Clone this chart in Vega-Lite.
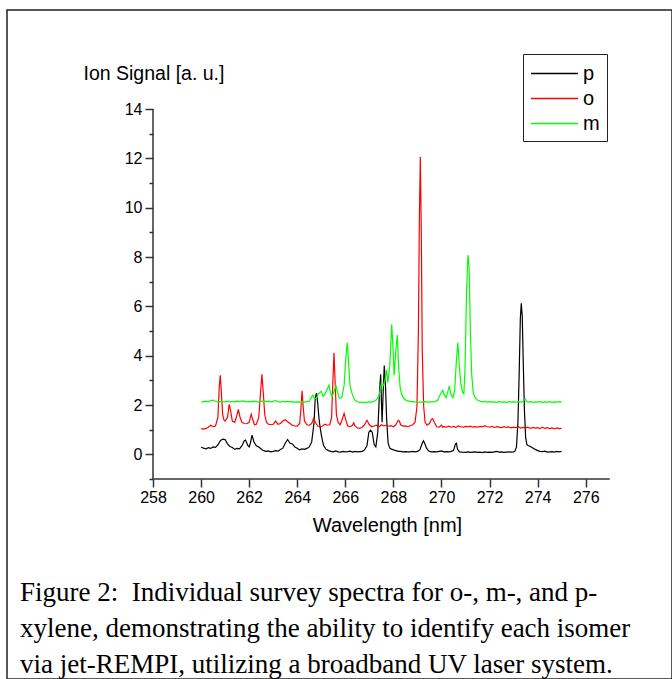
{
 "$schema": "https://vega.github.io/schema/vega-lite/v6.json",
 "width": 665, "height": 669,
 "autosize": {"type": "none"},
 "padding": {"left": 7, "top": 10, "right": 0, "bottom": 0},
 "background": "white",
 "config": {"view": {"stroke": "#222", "strokeWidth": 1.5}, "font": "Liberation Sans"},
 "title": {"text": ["Figure 2:\u00a0 Individual survey spectra for o-, m-, and p-", "xylene, demonstrating the ability to identify each isomer", "via jet-REMPI, utilizing a broadband UV laser system."], "orient": "bottom", "anchor": "start", "frame": "group", "offset": -78, "baseline": "alphabetic", "font": "Liberation Serif", "fontSize": 27, "fontWeight": "normal", "color": "#000", "lineHeight": 36, "dx": 13},
 "layer": [
  {
   "data": {"values": [
{"s":"p","w":260.0,"v":0.30},{"s":"p","w":260.1,"v":0.25},{"s":"p","w":260.2,"v":0.22},{"s":"p","w":260.3,"v":0.27},{"s":"p","w":260.4,"v":0.24},{"s":"p","w":260.5,"v":0.30},{"s":"p","w":260.6,"v":0.28},{"s":"p","w":260.7,"v":0.38},{"s":"p","w":260.8,"v":0.55},{"s":"p","w":260.9,"v":0.62},{"s":"p","w":261.0,"v":0.60},{"s":"p","w":261.1,"v":0.42},{"s":"p","w":261.2,"v":0.32},{"s":"p","w":261.3,"v":0.28},{"s":"p","w":261.4,"v":0.20},{"s":"p","w":261.5,"v":0.24},{"s":"p","w":261.6,"v":0.22},{"s":"p","w":261.7,"v":0.35},{"s":"p","w":261.8,"v":0.55},{"s":"p","w":261.85,"v":0.58},{"s":"p","w":261.95,"v":0.35},{"s":"p","w":262.0,"v":0.30},{"s":"p","w":262.05,"v":0.45},{"s":"p","w":262.12,"v":0.78},{"s":"p","w":262.2,"v":0.50},{"s":"p","w":262.3,"v":0.35},{"s":"p","w":262.4,"v":0.30},{"s":"p","w":262.5,"v":0.22},{"s":"p","w":262.6,"v":0.15},{"s":"p","w":262.7,"v":0.12},{"s":"p","w":262.8,"v":0.14},{"s":"p","w":262.9,"v":0.10},{"s":"p","w":263.0,"v":0.12},{"s":"p","w":263.1,"v":0.15},{"s":"p","w":263.2,"v":0.13},{"s":"p","w":263.3,"v":0.20},{"s":"p","w":263.4,"v":0.25},{"s":"p","w":263.5,"v":0.45},{"s":"p","w":263.6,"v":0.60},{"s":"p","w":263.7,"v":0.45},{"s":"p","w":263.8,"v":0.42},{"s":"p","w":263.9,"v":0.30},{"s":"p","w":264.0,"v":0.25},{"s":"p","w":264.1,"v":0.18},{"s":"p","w":264.2,"v":0.22},{"s":"p","w":264.3,"v":0.20},{"s":"p","w":264.4,"v":0.24},{"s":"p","w":264.5,"v":0.30},{"s":"p","w":264.6,"v":0.50},{"s":"p","w":264.7,"v":1.30},{"s":"p","w":264.75,"v":2.30},{"s":"p","w":264.8,"v":2.48},{"s":"p","w":264.85,"v":2.10},{"s":"p","w":264.9,"v":1.50},{"s":"p","w":264.95,"v":1.10},{"s":"p","w":265.0,"v":0.80},{"s":"p","w":265.05,"v":0.55},{"s":"p","w":265.1,"v":0.35},{"s":"p","w":265.2,"v":0.20},{"s":"p","w":265.3,"v":0.15},{"s":"p","w":265.4,"v":0.12},{"s":"p","w":265.5,"v":0.10},{"s":"p","w":265.6,"v":0.14},{"s":"p","w":265.7,"v":0.10},{"s":"p","w":265.8,"v":0.09},{"s":"p","w":265.9,"v":0.12},{"s":"p","w":266.0,"v":0.10},{"s":"p","w":266.1,"v":0.11},{"s":"p","w":266.2,"v":0.13},{"s":"p","w":266.3,"v":0.09},{"s":"p","w":266.4,"v":0.12},{"s":"p","w":266.5,"v":0.10},{"s":"p","w":266.6,"v":0.11},{"s":"p","w":266.7,"v":0.12},{"s":"p","w":266.8,"v":0.18},{"s":"p","w":266.9,"v":0.35},{"s":"p","w":266.98,"v":0.90},{"s":"p","w":267.05,"v":0.98},{"s":"p","w":267.12,"v":0.90},{"s":"p","w":267.2,"v":0.40},{"s":"p","w":267.27,"v":0.30},{"s":"p","w":267.35,"v":0.90},{"s":"p","w":267.42,"v":2.50},{"s":"p","w":267.47,"v":3.25},{"s":"p","w":267.5,"v":2.20},{"s":"p","w":267.53,"v":1.30},{"s":"p","w":267.57,"v":2.40},{"s":"p","w":267.62,"v":3.60},{"s":"p","w":267.67,"v":2.80},{"s":"p","w":267.72,"v":1.40},{"s":"p","w":267.78,"v":0.45},{"s":"p","w":267.85,"v":0.25},{"s":"p","w":267.9,"v":0.22},{"s":"p","w":268.0,"v":0.18},{"s":"p","w":268.1,"v":0.15},{"s":"p","w":268.2,"v":0.12},{"s":"p","w":268.3,"v":0.12},{"s":"p","w":268.4,"v":0.10},{"s":"p","w":268.5,"v":0.11},{"s":"p","w":268.6,"v":0.10},{"s":"p","w":268.7,"v":0.10},{"s":"p","w":268.8,"v":0.12},{"s":"p","w":268.9,"v":0.10},{"s":"p","w":269.0,"v":0.12},{"s":"p","w":269.1,"v":0.18},{"s":"p","w":269.2,"v":0.45},{"s":"p","w":269.25,"v":0.55},{"s":"p","w":269.3,"v":0.45},{"s":"p","w":269.38,"v":0.25},{"s":"p","w":269.45,"v":0.15},{"s":"p","w":269.5,"v":0.12},{"s":"p","w":269.6,"v":0.10},{"s":"p","w":269.7,"v":0.11},{"s":"p","w":269.8,"v":0.10},{"s":"p","w":269.9,"v":0.12},{"s":"p","w":270.0,"v":0.14},{"s":"p","w":270.1,"v":0.10},{"s":"p","w":270.2,"v":0.11},{"s":"p","w":270.3,"v":0.10},{"s":"p","w":270.4,"v":0.12},{"s":"p","w":270.5,"v":0.15},{"s":"p","w":270.58,"v":0.42},{"s":"p","w":270.62,"v":0.45},{"s":"p","w":270.67,"v":0.20},{"s":"p","w":270.75,"v":0.10},{"s":"p","w":270.85,"v":0.09},{"s":"p","w":271.0,"v":0.08},{"s":"p","w":271.1,"v":0.10},{"s":"p","w":271.2,"v":0.08},{"s":"p","w":271.3,"v":0.09},{"s":"p","w":271.4,"v":0.10},{"s":"p","w":271.5,"v":0.08},{"s":"p","w":271.6,"v":0.09},{"s":"p","w":271.7,"v":0.07},{"s":"p","w":271.8,"v":0.10},{"s":"p","w":271.9,"v":0.08},{"s":"p","w":272.0,"v":0.09},{"s":"p","w":272.1,"v":0.08},{"s":"p","w":272.2,"v":0.10},{"s":"p","w":272.3,"v":0.12},{"s":"p","w":272.4,"v":0.09},{"s":"p","w":272.5,"v":0.10},{"s":"p","w":272.6,"v":0.08},{"s":"p","w":272.7,"v":0.09},{"s":"p","w":272.8,"v":0.10},{"s":"p","w":272.9,"v":0.09},{"s":"p","w":273.0,"v":0.10},{"s":"p","w":273.05,"v":0.12},{"s":"p","w":273.12,"v":0.30},{"s":"p","w":273.18,"v":1.30},{"s":"p","w":273.23,"v":3.20},{"s":"p","w":273.28,"v":5.50},{"s":"p","w":273.32,"v":6.12},{"s":"p","w":273.36,"v":5.60},{"s":"p","w":273.4,"v":3.80},{"s":"p","w":273.45,"v":1.80},{"s":"p","w":273.5,"v":0.70},{"s":"p","w":273.55,"v":0.40},{"s":"p","w":273.6,"v":0.36},{"s":"p","w":273.7,"v":0.32},{"s":"p","w":273.8,"v":0.26},{"s":"p","w":273.9,"v":0.20},{"s":"p","w":274.0,"v":0.15},{"s":"p","w":274.1,"v":0.12},{"s":"p","w":274.2,"v":0.11},{"s":"p","w":274.3,"v":0.13},{"s":"p","w":274.4,"v":0.09},{"s":"p","w":274.5,"v":0.10},{"s":"p","w":274.6,"v":0.11},{"s":"p","w":274.7,"v":0.09},{"s":"p","w":274.8,"v":0.12},{"s":"p","w":274.9,"v":0.10},{"s":"p","w":275.0,"v":0.12},
{"s":"o","w":260.0,"v":1.04},{"s":"o","w":260.1,"v":1.02},{"s":"o","w":260.2,"v":1.05},{"s":"o","w":260.3,"v":1.10},{"s":"o","w":260.4,"v":1.18},{"s":"o","w":260.5,"v":1.12},{"s":"o","w":260.6,"v":1.15},{"s":"o","w":260.7,"v":1.50},{"s":"o","w":260.76,"v":2.80},{"s":"o","w":260.8,"v":3.20},{"s":"o","w":260.85,"v":2.40},{"s":"o","w":260.9,"v":1.60},{"s":"o","w":260.95,"v":1.40},{"s":"o","w":261.0,"v":1.35},{"s":"o","w":261.1,"v":1.50},{"s":"o","w":261.17,"v":2.03},{"s":"o","w":261.22,"v":1.80},{"s":"o","w":261.3,"v":1.35},{"s":"o","w":261.4,"v":1.30},{"s":"o","w":261.48,"v":1.55},{"s":"o","w":261.55,"v":1.82},{"s":"o","w":261.62,"v":1.50},{"s":"o","w":261.7,"v":1.30},{"s":"o","w":261.8,"v":1.25},{"s":"o","w":261.9,"v":1.24},{"s":"o","w":262.0,"v":1.30},{"s":"o","w":262.05,"v":1.50},{"s":"o","w":262.09,"v":1.63},{"s":"o","w":262.15,"v":1.40},{"s":"o","w":262.22,"v":1.20},{"s":"o","w":262.3,"v":1.22},{"s":"o","w":262.4,"v":1.50},{"s":"o","w":262.48,"v":2.60},{"s":"o","w":262.53,"v":3.25},{"s":"o","w":262.58,"v":2.60},{"s":"o","w":262.65,"v":1.60},{"s":"o","w":262.72,"v":1.30},{"s":"o","w":262.8,"v":1.22},{"s":"o","w":262.9,"v":1.20},{"s":"o","w":263.0,"v":1.22},{"s":"o","w":263.1,"v":1.35},{"s":"o","w":263.2,"v":1.22},{"s":"o","w":263.3,"v":1.25},{"s":"o","w":263.4,"v":1.35},{"s":"o","w":263.5,"v":1.40},{"s":"o","w":263.6,"v":1.32},{"s":"o","w":263.7,"v":1.25},{"s":"o","w":263.8,"v":1.18},{"s":"o","w":263.9,"v":1.15},{"s":"o","w":264.0,"v":1.14},{"s":"o","w":264.1,"v":1.25},{"s":"o","w":264.15,"v":1.80},{"s":"o","w":264.2,"v":2.58},{"s":"o","w":264.25,"v":1.90},{"s":"o","w":264.3,"v":1.35},{"s":"o","w":264.4,"v":1.20},{"s":"o","w":264.5,"v":1.18},{"s":"o","w":264.6,"v":1.25},{"s":"o","w":264.68,"v":1.46},{"s":"o","w":264.75,"v":1.30},{"s":"o","w":264.85,"v":1.15},{"s":"o","w":264.95,"v":1.12},{"s":"o","w":265.05,"v":1.15},{"s":"o","w":265.15,"v":1.22},{"s":"o","w":265.25,"v":1.18},{"s":"o","w":265.35,"v":1.20},{"s":"o","w":265.43,"v":1.50},{"s":"o","w":265.48,"v":2.90},{"s":"o","w":265.53,"v":4.12},{"s":"o","w":265.58,"v":2.80},{"s":"o","w":265.63,"v":1.60},{"s":"o","w":265.7,"v":1.30},{"s":"o","w":265.78,"v":1.20},{"s":"o","w":265.85,"v":1.35},{"s":"o","w":265.95,"v":1.66},{"s":"o","w":266.02,"v":1.40},{"s":"o","w":266.1,"v":1.15},{"s":"o","w":266.2,"v":1.12},{"s":"o","w":266.3,"v":1.18},{"s":"o","w":266.35,"v":1.28},{"s":"o","w":266.4,"v":1.15},{"s":"o","w":266.5,"v":1.08},{"s":"o","w":266.6,"v":1.05},{"s":"o","w":266.7,"v":1.10},{"s":"o","w":266.8,"v":1.20},{"s":"o","w":266.9,"v":1.38},{"s":"o","w":267.0,"v":1.20},{"s":"o","w":267.1,"v":1.12},{"s":"o","w":267.2,"v":1.15},{"s":"o","w":267.3,"v":1.18},{"s":"o","w":267.4,"v":1.12},{"s":"o","w":267.5,"v":1.20},{"s":"o","w":267.6,"v":1.15},{"s":"o","w":267.7,"v":1.18},{"s":"o","w":267.8,"v":1.14},{"s":"o","w":267.9,"v":1.16},{"s":"o","w":268.0,"v":1.12},{"s":"o","w":268.1,"v":1.20},{"s":"o","w":268.2,"v":1.38},{"s":"o","w":268.25,"v":1.35},{"s":"o","w":268.3,"v":1.20},{"s":"o","w":268.4,"v":1.14},{"s":"o","w":268.5,"v":1.15},{"s":"o","w":268.6,"v":1.12},{"s":"o","w":268.7,"v":1.16},{"s":"o","w":268.8,"v":1.20},{"s":"o","w":268.9,"v":1.30},{"s":"o","w":268.98,"v":1.93},{"s":"o","w":269.04,"v":5.0},{"s":"o","w":269.08,"v":9.5},{"s":"o","w":269.12,"v":12.05},{"s":"o","w":269.16,"v":9.0},{"s":"o","w":269.2,"v":4.2},{"s":"o","w":269.26,"v":1.93},{"s":"o","w":269.32,"v":1.30},{"s":"o","w":269.4,"v":1.18},{"s":"o","w":269.5,"v":1.25},{"s":"o","w":269.58,"v":1.42},{"s":"o","w":269.63,"v":1.45},{"s":"o","w":269.7,"v":1.30},{"s":"o","w":269.8,"v":1.12},{"s":"o","w":269.9,"v":1.10},{"s":"o","w":270.0,"v":1.18},{"s":"o","w":270.05,"v":1.10},{"s":"o","w":270.1,"v":1.12},{"s":"o","w":270.2,"v":1.10},{"s":"o","w":270.3,"v":1.14},{"s":"o","w":270.4,"v":1.10},{"s":"o","w":270.5,"v":1.13},{"s":"o","w":270.6,"v":1.09},{"s":"o","w":270.7,"v":1.15},{"s":"o","w":270.8,"v":1.12},{"s":"o","w":270.9,"v":1.10},{"s":"o","w":271.0,"v":1.13},{"s":"o","w":271.1,"v":1.11},{"s":"o","w":271.2,"v":1.14},{"s":"o","w":271.3,"v":1.10},{"s":"o","w":271.4,"v":1.12},{"s":"o","w":271.5,"v":1.10},{"s":"o","w":271.6,"v":1.13},{"s":"o","w":271.7,"v":1.11},{"s":"o","w":271.8,"v":1.16},{"s":"o","w":271.9,"v":1.12},{"s":"o","w":272.0,"v":1.10},{"s":"o","w":272.1,"v":1.13},{"s":"o","w":272.2,"v":1.09},{"s":"o","w":272.3,"v":1.12},{"s":"o","w":272.4,"v":1.10},{"s":"o","w":272.5,"v":1.08},{"s":"o","w":272.6,"v":1.12},{"s":"o","w":272.7,"v":1.09},{"s":"o","w":272.8,"v":1.11},{"s":"o","w":272.9,"v":1.07},{"s":"o","w":273.0,"v":1.10},{"s":"o","w":273.1,"v":1.08},{"s":"o","w":273.2,"v":1.12},{"s":"o","w":273.3,"v":1.06},{"s":"o","w":273.4,"v":1.09},{"s":"o","w":273.5,"v":1.07},{"s":"o","w":273.6,"v":1.10},{"s":"o","w":273.7,"v":1.05},{"s":"o","w":273.8,"v":1.09},{"s":"o","w":273.9,"v":1.06},{"s":"o","w":274.0,"v":1.08},{"s":"o","w":274.1,"v":1.04},{"s":"o","w":274.2,"v":1.10},{"s":"o","w":274.3,"v":1.05},{"s":"o","w":274.4,"v":1.08},{"s":"o","w":274.5,"v":1.04},{"s":"o","w":274.6,"v":1.07},{"s":"o","w":274.7,"v":1.03},{"s":"o","w":274.8,"v":1.07},{"s":"o","w":274.9,"v":1.04},{"s":"o","w":275.0,"v":1.05},
{"s":"m","w":260.0,"v":2.11},{"s":"m","w":260.1,"v":2.14},{"s":"m","w":260.2,"v":2.16},{"s":"m","w":260.3,"v":2.13},{"s":"m","w":260.4,"v":2.18},{"s":"m","w":260.5,"v":2.20},{"s":"m","w":260.6,"v":2.15},{"s":"m","w":260.7,"v":2.12},{"s":"m","w":260.8,"v":2.15},{"s":"m","w":260.9,"v":2.13},{"s":"m","w":261.0,"v":2.14},{"s":"m","w":261.1,"v":2.16},{"s":"m","w":261.2,"v":2.12},{"s":"m","w":261.3,"v":2.15},{"s":"m","w":261.4,"v":2.13},{"s":"m","w":261.5,"v":2.16},{"s":"m","w":261.6,"v":2.14},{"s":"m","w":261.7,"v":2.17},{"s":"m","w":261.8,"v":2.15},{"s":"m","w":261.9,"v":2.13},{"s":"m","w":262.0,"v":2.15},{"s":"m","w":262.1,"v":2.13},{"s":"m","w":262.2,"v":2.16},{"s":"m","w":262.3,"v":2.14},{"s":"m","w":262.4,"v":2.12},{"s":"m","w":262.5,"v":2.15},{"s":"m","w":262.6,"v":2.18},{"s":"m","w":262.7,"v":2.14},{"s":"m","w":262.8,"v":2.16},{"s":"m","w":262.9,"v":2.13},{"s":"m","w":263.0,"v":2.15},{"s":"m","w":263.1,"v":2.18},{"s":"m","w":263.2,"v":2.14},{"s":"m","w":263.3,"v":2.12},{"s":"m","w":263.4,"v":2.15},{"s":"m","w":263.5,"v":2.13},{"s":"m","w":263.6,"v":2.15},{"s":"m","w":263.7,"v":2.13},{"s":"m","w":263.8,"v":2.14},{"s":"m","w":263.9,"v":2.12},{"s":"m","w":264.0,"v":2.13},{"s":"m","w":264.1,"v":2.12},{"s":"m","w":264.2,"v":2.13},{"s":"m","w":264.3,"v":2.12},{"s":"m","w":264.4,"v":2.14},{"s":"m","w":264.5,"v":2.15},{"s":"m","w":264.6,"v":2.34},{"s":"m","w":264.65,"v":2.40},{"s":"m","w":264.72,"v":2.25},{"s":"m","w":264.8,"v":2.28},{"s":"m","w":264.88,"v":2.45},{"s":"m","w":265.0,"v":2.56},{"s":"m","w":265.08,"v":2.35},{"s":"m","w":265.16,"v":2.45},{"s":"m","w":265.25,"v":2.65},{"s":"m","w":265.32,"v":2.81},{"s":"m","w":265.38,"v":2.50},{"s":"m","w":265.45,"v":2.35},{"s":"m","w":265.55,"v":2.60},{"s":"m","w":265.61,"v":2.78},{"s":"m","w":265.68,"v":2.50},{"s":"m","w":265.75,"v":2.27},{"s":"m","w":265.85,"v":2.30},{"s":"m","w":265.95,"v":2.80},{"s":"m","w":266.02,"v":3.90},{"s":"m","w":266.08,"v":4.52},{"s":"m","w":266.13,"v":3.80},{"s":"m","w":266.2,"v":2.75},{"s":"m","w":266.3,"v":2.40},{"s":"m","w":266.4,"v":2.20},{"s":"m","w":266.5,"v":2.13},{"s":"m","w":266.6,"v":2.10},{"s":"m","w":266.7,"v":2.12},{"s":"m","w":266.8,"v":2.10},{"s":"m","w":266.9,"v":2.12},{"s":"m","w":267.0,"v":2.13},{"s":"m","w":267.1,"v":2.12},{"s":"m","w":267.2,"v":2.15},{"s":"m","w":267.3,"v":2.22},{"s":"m","w":267.4,"v":2.35},{"s":"m","w":267.5,"v":2.90},{"s":"m","w":267.58,"v":2.80},{"s":"m","w":267.65,"v":3.00},{"s":"m","w":267.72,"v":3.42},{"s":"m","w":267.77,"v":2.90},{"s":"m","w":267.85,"v":3.60},{"s":"m","w":267.93,"v":5.27},{"s":"m","w":268.0,"v":4.00},{"s":"m","w":268.03,"v":3.20},{"s":"m","w":268.1,"v":4.20},{"s":"m","w":268.16,"v":4.84},{"s":"m","w":268.22,"v":3.50},{"s":"m","w":268.28,"v":2.70},{"s":"m","w":268.35,"v":2.40},{"s":"m","w":268.45,"v":2.25},{"s":"m","w":268.55,"v":2.18},{"s":"m","w":268.7,"v":2.15},{"s":"m","w":268.85,"v":2.13},{"s":"m","w":269.0,"v":2.12},{"s":"m","w":269.15,"v":2.12},{"s":"m","w":269.3,"v":2.14},{"s":"m","w":269.45,"v":2.12},{"s":"m","w":269.6,"v":2.13},{"s":"m","w":269.75,"v":2.14},{"s":"m","w":269.85,"v":2.20},{"s":"m","w":269.94,"v":2.42},{"s":"m","w":270.05,"v":2.60},{"s":"m","w":270.12,"v":2.40},{"s":"m","w":270.2,"v":2.30},{"s":"m","w":270.28,"v":2.60},{"s":"m","w":270.33,"v":2.78},{"s":"m","w":270.4,"v":2.40},{"s":"m","w":270.48,"v":2.30},{"s":"m","w":270.55,"v":2.60},{"s":"m","w":270.62,"v":3.80},{"s":"m","w":270.68,"v":4.52},{"s":"m","w":270.74,"v":3.60},{"s":"m","w":270.8,"v":2.90},{"s":"m","w":270.88,"v":2.50},{"s":"m","w":270.93,"v":2.45},{"s":"m","w":270.98,"v":3.50},{"s":"m","w":271.04,"v":6.50},{"s":"m","w":271.1,"v":8.08},{"s":"m","w":271.15,"v":7.60},{"s":"m","w":271.2,"v":5.00},{"s":"m","w":271.26,"v":3.20},{"s":"m","w":271.32,"v":2.50},{"s":"m","w":271.4,"v":2.30},{"s":"m","w":271.5,"v":2.20},{"s":"m","w":271.6,"v":2.16},{"s":"m","w":271.7,"v":2.13},{"s":"m","w":271.8,"v":2.15},{"s":"m","w":271.9,"v":2.12},{"s":"m","w":272.0,"v":2.14},{"s":"m","w":272.1,"v":2.12},{"s":"m","w":272.2,"v":2.13},{"s":"m","w":272.3,"v":2.11},{"s":"m","w":272.4,"v":2.14},{"s":"m","w":272.5,"v":2.12},{"s":"m","w":272.6,"v":2.13},{"s":"m","w":272.7,"v":2.11},{"s":"m","w":272.8,"v":2.14},{"s":"m","w":272.9,"v":2.12},{"s":"m","w":273.0,"v":2.13},{"s":"m","w":273.1,"v":2.12},{"s":"m","w":273.2,"v":2.14},{"s":"m","w":273.3,"v":2.12},{"s":"m","w":273.4,"v":2.15},{"s":"m","w":273.48,"v":2.25},{"s":"m","w":273.55,"v":2.13},{"s":"m","w":273.6,"v":2.12},{"s":"m","w":273.7,"v":2.14},{"s":"m","w":273.8,"v":2.11},{"s":"m","w":273.9,"v":2.13},{"s":"m","w":274.0,"v":2.12},{"s":"m","w":274.1,"v":2.14},{"s":"m","w":274.2,"v":2.11},{"s":"m","w":274.3,"v":2.13},{"s":"m","w":274.4,"v":2.12},{"s":"m","w":274.5,"v":2.14},{"s":"m","w":274.6,"v":2.11},{"s":"m","w":274.7,"v":2.13},{"s":"m","w":274.8,"v":2.12},{"s":"m","w":274.9,"v":2.14},{"s":"m","w":275.0,"v":2.13}
   ]},
   "mark": {"type": "line", "strokeWidth": 1.2},
   "encoding": {
    "x": {"field": "w", "type": "quantitative",
     "scale": {"domain": [251.927, 279.589], "nice": false, "zero": false},
     "axis": {"values": [258,259,260,261,262,263,264,265,266,267,268,269,270,271,272,273,274,275,276,277],
      "labelExpr": "datum.value % 2 === 0 ? datum.label : ''",
      "tickSize": {"condition": {"test": "datum.value % 2 !== 0", "value": 4}, "value": 8},
      "domain": false, "grid": false, "offset": -200,
      "labelFont": "Liberation Sans", "labelFontSize": 16, "labelColor": "#000", "labelPadding": 2,
      "labelFlush": false, "labelOverlap": false,
      "tickColor": "#333", "tickWidth": 1.5,
      "title": "Wavelength [nm]", "titleFont": "Liberation Sans", "titleFontSize": 20, "titleFontWeight": "normal", "titleColor": "#000",
      "titleX": 380, "titleY": 52, "titleAlign": "center", "titleBaseline": "alphabetic"}},
    "y": {"field": "v", "type": "quantitative",
     "scale": {"domain": [-9.108, 18.014], "nice": false, "zero": false},
     "axis": {"values": [-1,0,1,2,3,4,5,6,7,8,9,10,11,12,13,14],
      "labelExpr": "datum.value % 2 === 0 ? datum.label : ''",
      "tickSize": {"condition": {"test": "datum.value % 2 !== 0", "value": 4}, "value": 8},
      "domain": false, "grid": false, "offset": -146,
      "labelFont": "Liberation Sans", "labelFontSize": 16, "labelColor": "#000", "labelPadding": 3,
      "labelFlush": false, "labelOverlap": false,
      "tickColor": "#333", "tickWidth": 1.5,
      "title": "Ion Signal [a. u.]", "titleFont": "Liberation Sans", "titleFontSize": 19.5, "titleFontWeight": "normal", "titleColor": "#000",
      "titleAngle": 0, "titleAlign": "left", "titleBaseline": "alphabetic", "titleX": -70, "titleY": 69}},
    "color": {"field": "s", "type": "nominal",
     "scale": {"domain": ["p", "o", "m"], "range": ["#000000", "#ff0000", "#00ff00"]},
     "legend": {"orient": "none", "legendX": 516, "legendY": 44, "title": null,
      "strokeColor": "#222", "fillColor": "white", "padding": 7,
      "symbolType": "M-2,0H2", "symbolSize": 552.25, "symbolStrokeWidth": 1.5, "symbolOffset": 12,
      "labelFont": "Liberation Sans", "labelFontSize": 20, "labelColor": "#000", "labelOffset": 16, "rowPadding": 2}}
   }
  },
  {
   "data": {"values": [{}]},
   "mark": {"type": "rule", "color": "#333", "strokeWidth": 1.5},
   "encoding": {"x": {"datum": 258, "type": "quantitative"}, "y": {"datum": -1, "type": "quantitative"}, "y2": {"datum": 14}}
  },
  {
   "data": {"values": [{}]},
   "mark": {"type": "rule", "color": "#333", "strokeWidth": 1.5},
   "encoding": {"x": {"datum": 258, "type": "quantitative"}, "x2": {"datum": 277}, "y": {"datum": -1, "type": "quantitative"}}
  }
 ]
}
